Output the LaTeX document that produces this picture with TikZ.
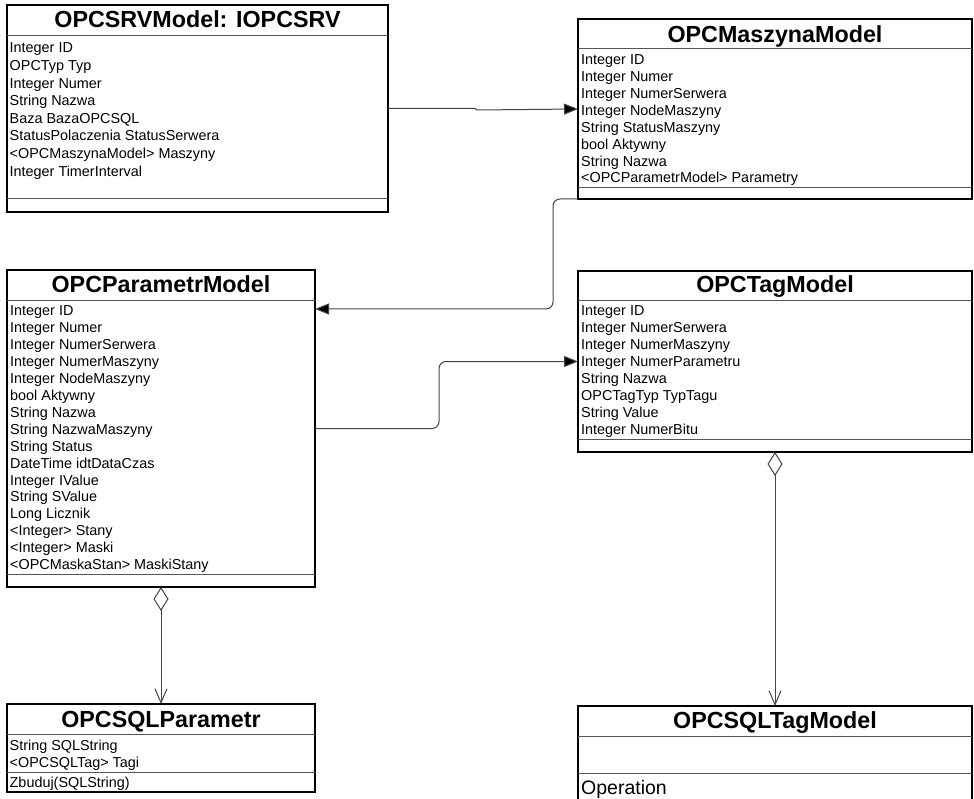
\documentclass[tikz,border=0pt]{standalone}
\usepackage{fontspec}
\setmainfont{Liberation Sans}
\usetikzlibrary{arrows.meta}
\definecolor{sepc}{HTML}{555555}
\definecolor{connc}{HTML}{444444}
\tikzset{
  umlbox/.style={draw=black, line width=2pt, inner sep=0pt, outer sep=0pt, anchor=north west, fill=white},
  umltitle/.style={anchor=base, inner sep=0pt, font=\fontsize{23.3}{26}\selectfont\bfseries},
  attr/.style={anchor=base west, inner sep=0pt, font=\fontsize{14.4}{17}\selectfont},
  sepline/.style={draw=sepc, line width=1pt},
  assoc/.style={draw=connc, line width=1pt, rounded corners=7pt, -{Triangle[length=14pt,width=11pt,fill=black]}},
  aggr/.style={draw=connc, line width=1pt, {Diamond[open,length=24pt,width=15pt]}-{Straight Barb[length=14pt,width=12pt]}}
}
\begin{document}
\begin{tikzpicture}[x=1pt,y=-1pt]
\useasboundingbox (0,0) rectangle (974,799);

% ---------- OPCSRVModel
\node[umlbox, minimum width=381pt, minimum height=207pt] (srv) at (7,5) {};
\node[umltitle] (srvT) at (197.5,28) {OPCSRVModel: IOPCSRV};
\draw[sepline] (7,36) -- (388,36);
\draw[sepline] (7,199) -- (388,199);
\foreach \t [count=\i] in {Integer ID, OPCTyp Typ, Integer Numer, String Nazwa, Baza BazaOPCSQL, StatusPolaczenia StatusSerwera, <OPCMaszynaModel> Maszyny, Integer TimerInterval}
  \node[attr] (srv-\i) at (9.5,{53+17.6*(\i-1)}) {\t};

% ---------- OPCMaszynaModel
\node[umlbox, minimum width=394pt, minimum height=180pt] (masz) at (578,19) {};
\node[umltitle] (maszT) at (775,42.5) {OPCMaszynaModel};
\draw[sepline] (578,49) -- (972,49);
\draw[sepline] (578,188) -- (972,188);
\foreach \t [count=\i] in {Integer ID, Integer Numer, Integer NumerSerwera, Integer NodeMaszyny, String StatusMaszyny, bool Aktywny, String Nazwa, <OPCParametrModel> Parametry}
  \node[attr] (masz-\i) at (581,{65+16.85*(\i-1)}) {\t};

% ---------- OPCParametrModel
\node[umlbox, minimum width=308pt, minimum height=317pt] (param) at (7,270) {};
\node[umltitle] (paramT) at (161,293) {OPCParametrModel};
\draw[sepline] (7,301) -- (315,301);
\draw[sepline] (7,574) -- (315,574);
\foreach \t [count=\i] in {Integer ID, Integer Numer, Integer NumerSerwera, Integer NumerMaszyny, Integer NodeMaszyny, bool Aktywny, String Nazwa, String NazwaMaszyny, String Status, DateTime idtDataCzas, Integer IValue, String SValue, Long Licznik, <Integer> Stany, <Integer> Maski, <OPCMaskaStan> MaskiStany}
  \node[attr] (param-\i) at (10,{316+16.9*(\i-1)}) {\t};

% ---------- OPCTagModel
\node[umlbox, minimum width=394pt, minimum height=181pt] (tag) at (578,271) {};
\node[umltitle] (tagT) at (775,293) {OPCTagModel};
\draw[sepline] (578,301) -- (972,301);
\draw[sepline] (578,439) -- (972,439);
\foreach \t [count=\i] in {Integer ID, Integer NumerSerwera, Integer NumerMaszyny, Integer NumerParametru, String Nazwa, OPCTagTyp TypTagu, String Value, Integer NumerBitu}
  \node[attr] (tag-\i) at (581,{316+16.9*(\i-1)}) {\t};

% ---------- OPCSQLParametr
\node[umlbox, minimum width=308pt, minimum height=88pt] (sqlp) at (7,704) {};
\node[umltitle] (sqlpT) at (161,727) {OPCSQLParametr};
\draw[sepline] (7,734) -- (315,734);
\draw[sepline] (7,772) -- (315,772);
\node[attr] (sqlp-1) at (9.5,750) {String SQLString};
\node[attr] (sqlp-2) at (9.5,767) {<OPCSQLTag> Tagi};
\node[attr] (sqlp-3) at (9.5,787) {Zbuduj(SQLString)};

% ---------- OPCSQLTagModel
\node[umlbox, minimum width=394pt, minimum height=110pt] (sqltag) at (578,706) {};
\node[umltitle] (sqltagT) at (775,728) {OPCSQLTagModel};
\draw[sepline] (578,736) -- (972,736);
\draw[sepline] (578,773) -- (972,773);
\node[attr, font=\fontsize{19.5}{22}\selectfont] (sqltag-1) at (581,794) {Operation};

% ---------- connectors
\draw[assoc, rounded corners=0pt] (srv.east) -- ([xshift=87pt]srv.east) -- ([xshift=89pt,yshift=-1.5pt]srv.east) -- (masz.west);
\draw[assoc] (masz.south west) -- ([xshift=-25pt]masz.south west) |- ([yshift=-39pt]param.north east);
\draw[assoc] (param.east) -- ([xshift=124pt]param.east) |- (tag.west);
\draw[aggr] (param.south) -- (sqlp.north);
\draw[aggr] (tag.south) -- (sqltag.north);
\end{tikzpicture}
\end{document}
